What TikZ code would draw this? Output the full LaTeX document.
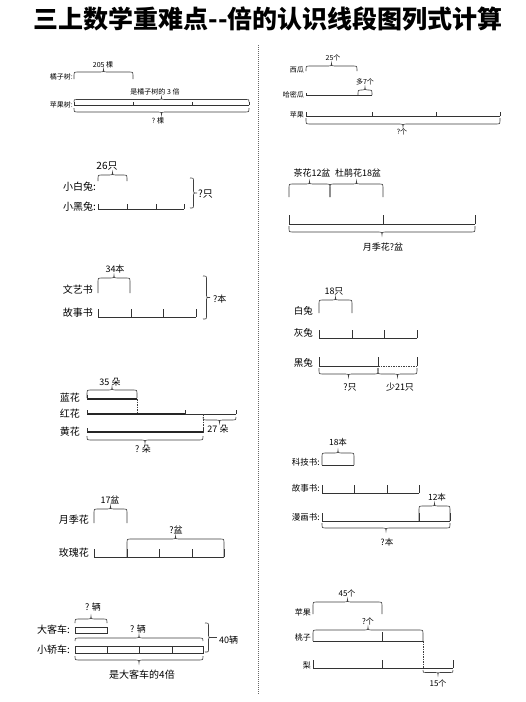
\documentclass[tikz,border=0pt]{standalone}
\usepackage{fontspec}
\setmainfont{Noto Sans CJK SC}
\tikzset{
  lbl/.style={inner sep=0pt, font=\fontsize{#1}{#1}\selectfont},
  lbl/.default=9,
  seg/.style={draw=black!80, line width=0.6pt},
  thickseg/.style={draw=black!85, line width=1.1pt},
  bline/.style={draw=black!75, line width=0.6pt},
  dline/.style={draw=black!75, line width=0.6pt, dash pattern=on 1.5pt off 1pt},
}
\newcommand\topbrace[4]{% x1 x2 ybase ytip
  \pgfmathsetmacro\bqm{(#1+#2)/2}%
  \pgfmathsetmacro\bqa{min(3,abs(#3-#4)/2)}%
  \pgfmathsetmacro\bqr{((#3-#4)/abs(#3-#4))*\bqa}%
  \draw[bline] (#1,#3) -- (#1,#4+2*\bqr) .. controls (#1,#4+\bqr) .. (#1+\bqa,#4+\bqr)
    -- (\bqm-\bqa,#4+\bqr) .. controls (\bqm,#4+\bqr) .. (\bqm,#4)
    .. controls (\bqm,#4+\bqr) .. (\bqm+\bqa,#4+\bqr)
    -- (#2-\bqa,#4+\bqr) .. controls (#2,#4+\bqr) .. (#2,#4+2*\bqr) -- (#2,#3);}
\newcommand\sidebrace[4]{% y1 y2 xbase xtip
  \pgfmathsetmacro\bqm{(#1+#2)/2}%
  \pgfmathsetmacro\bqr{(#4-#3)/2}%
  \draw[bline] (#3,#1) .. controls (#3+\bqr,#1) .. (#3+\bqr,#1+\bqr)
    -- (#3+\bqr,\bqm-\bqr) .. controls (#3+\bqr,\bqm) .. (#4,\bqm)
    .. controls (#3+\bqr,\bqm) .. (#3+\bqr,\bqm+\bqr)
    -- (#3+\bqr,#2-\bqr) .. controls (#3+\bqr,#2) .. (#3,#2);}
\begin{document}
\begin{tikzpicture}[x=1pt,y=-1pt]
\useasboundingbox (0,0) rectangle (526,702);
\fill[white] (0,0) rectangle (526,702);
% title
\node[inner sep=0pt, font=\fontsize{25}{25}\selectfont\bfseries] (title) at (268,19) {三上数学重难点-{}-倍的认识线段图列式计算};
% divider
\draw[black!60, line width=0.6pt, dash pattern=on 1pt off 1pt] (258,45) -- (258,695);

% ---------- panel 1
\node[lbl=7] (p1a) at (103,65) {205 棵};
\node[lbl=7, anchor=east] (p1b) at (73,77) {橘子树:};
\topbrace{74}{133}{79}{69}
\node[lbl=7] (p1c) at (155,92) {是橘子树的 3 倍};
\topbrace{74}{249}{102}{97}
\node[lbl=7, anchor=east] (p1d) at (73,105) {苹果树:};
\draw[seg] (74,105) -- (249,105);
\foreach \q in {74,133,192,249} \draw[seg] (\q,105) -- ++(0,-3);
\topbrace{74}{249}{108}{115}
\node[lbl=7] (p1e) at (158,121) {? 棵};

% ---------- panel 2
\node[lbl=10] (p2a) at (107,166) {26只};
\topbrace{98}{127}{181}{172}
\node[lbl=10, anchor=east] (p2b) at (96,187) {小白兔:};
\node[lbl=10, anchor=east] (p2c) at (96,207) {小黑兔:};
\draw[seg] (98,209) -- (184,209);
\foreach \q in {98,127,156,184} \draw[seg] (\q,209) -- ++(0,-5);
\sidebrace{178}{208}{190}{197}
\node[lbl=10, anchor=west] (p2d) at (198,194) {?只};

% ---------- panel 3
\node[lbl=9] (p3a) at (115,269) {34本};
\topbrace{98}{130}{293}{275}
\node[lbl=10, anchor=east] (p3b) at (93,290) {文艺书};
\node[lbl=10, anchor=east] (p3c) at (93,313) {故事书};
\draw[seg] (98,317) -- (196,317);
\foreach \q in {98,131,163,196} \draw[seg] (\q,317) -- ++(0,-8);
\sidebrace{276}{319}{203}{210}
\node[lbl=9, anchor=west] (p3d) at (213,299) {?本};

% ---------- panel 4
\node[lbl=9] (p4a) at (110,382) {35 朵};
\topbrace{87}{137}{398}{387}
\node[lbl=10, anchor=east] (p4b) at (80,398) {蓝花};
\draw[thickseg] (87,399) -- (137,399);
\draw[seg] (87,399) -- ++(0,-4);
\draw[dline] (137,399) -- (137,414);
\node[lbl=10, anchor=east] (p4c) at (80,414) {红花};
\draw[thickseg] (87,414) -- (185,414);
\draw[seg] (185,414) -- (236,414);
\foreach \q in {87,185,236} \draw[seg] (\q,414) -- ++(0,-4);
\topbrace{203}{236}{417}{423}
\node[lbl=9] (p4d) at (218,429) {27 朵};
\draw[dline] (203,414) -- (203,432);
\node[lbl=10, anchor=east] (p4e) at (80,432) {黄花};
\draw[thickseg] (87,432) -- (203,432);
\foreach \q in {87,203} \draw[seg] (\q,432) -- ++(0,-4);
\topbrace{87}{203}{436}{443}
\node[lbl=9] (p4f) at (143,449) {? 朵};

% ---------- panel 5
\node[lbl=9] (p5a) at (110,500) {17盆};
\topbrace{94}{127}{523}{506}
\node[lbl=10, anchor=east] (p5b) at (89,520) {月季花};
\node[lbl=10, anchor=east] (p5c) at (89,553) {玫瑰花};
\draw[seg] (94,557) -- (224,557);
\foreach \q in {94,127,159,192,224} \draw[seg] (\q,557) -- ++(0,-8);
\topbrace{127}{224}{557}{536}
\node[lbl=9] (p5d) at (176,530) {?盆};

% ---------- panel 6
\node[lbl=9] (p6a) at (93,607) {? 辆};
\topbrace{75}{107}{623}{616}
\draw[seg] (75,627) rectangle (107,633);
\node[lbl=10, anchor=east] (p6b) at (70,630) {大客车:};
\node[lbl=9] (p6c) at (138,629) {? 辆};
\topbrace{75}{203}{641}{635}
\draw[seg] (75,646) rectangle (203,653);
\foreach \q in {107,139,172} \draw[seg] (\q,646) -- (\q,653);
\node[lbl=10, anchor=east] (p6d) at (70,650) {小轿车:};
\topbrace{75}{203}{656}{663}
\node[lbl=10] (p6e) at (142,675) {是大客车的4倍};
\sidebrace{623}{652}{205}{212}
\draw[bline] (212,637.5) -- (217,637.5);
\node[lbl=9, anchor=west] (p6f) at (219,640) {40辆};

% ---------- R1
\node[lbl=7] (r1a) at (333,58) {25个};
\topbrace{306}{357}{71}{63}
\node[lbl=7, anchor=east] (r1b) at (304,70) {西瓜};
\node[lbl=7] (r1c) at (365,82) {多7个};
\node[lbl=7, anchor=east] (r1d) at (304,95) {哈密瓜};
\draw[seg] (306,95) -- (372,95);
\draw[seg] (306,95) -- ++(0,-2);
\topbrace{358}{372}{95}{87}
\node[lbl=7, anchor=east] (r1e) at (304,115) {苹果};
\draw[seg] (306,116) -- (500,116);
\foreach \q in {306,372,436,500} \draw[seg] (\q,116) -- ++(0,-4);
\topbrace{306}{500}{118}{127}
\node[lbl=7] (r1f) at (402,132) {?个};

% ---------- R2
\node[lbl=9] (r2a) at (312,173) {茶花12盆};
\node[lbl=9] (r2b) at (358,173) {杜鹃花18盆};
\topbrace{289}{330}{197}{181}
\topbrace{330}{383}{197}{181}
\draw[seg] (289,224) -- (475,224);
\foreach \q in {289,383,475} \draw[seg] (\q,224) -- ++(0,-9);
\topbrace{289}{475}{226}{235}
\node[lbl=9] (r2c) at (383,247) {月季花?盆};

% ---------- R3
\node[lbl=9] (r3a) at (334,291) {18只};
\topbrace{319}{352}{313}{297}
\node[lbl=9.5, anchor=east] (r3b) at (313,311) {白兔};
\node[lbl=9.5, anchor=east] (r3c) at (313,333) {灰兔};
\draw[seg] (319,338) -- (417,338);
\foreach \q in {319,352,384,417} \draw[seg] (\q,338) -- ++(0,-8);
\node[lbl=9.5, anchor=east] (r3d) at (313,363) {黑兔};
\draw[seg] (319,366) -- (378,366);
\draw[dline] (378,366) -- (417,366);
\foreach \q in {319,378,417} \draw[seg] (\q,366) -- ++(0,-9);
\topbrace{319}{378}{368}{377}
\topbrace{378}{417}{368}{377}
\node[lbl=9] (r3e) at (350,387) {?只};
\node[lbl=9] (r3f) at (400,387) {少21只};

% ---------- R4
\node[lbl=8.5] (r4a) at (338,442) {18本};
\topbrace{322}{354}{465}{450}
\draw[seg] (322,465) -- (354,465);
\node[lbl=8.5, anchor=east] (r4b) at (320,462) {科技书:};
\node[lbl=8.5, anchor=east] (r4c) at (320,488) {故事书:};
\draw[seg] (322,493) -- (419,493);
\foreach \q in {322,354,387,419} \draw[seg] (\q,493) -- ++(0,-8);
\node[lbl=8.5] (r4d) at (437,497) {12本};
\node[lbl=8.5, anchor=east] (r4e) at (320,517) {漫画书:};
\draw[seg] (322,521) -- (450,521);
\foreach \q in {322,419,450} \draw[seg] (\q,521) -- ++(0,-8);
\topbrace{419}{450}{521}{503}
\topbrace{322}{450}{523}{531}
\node[lbl=8.5] (r4f) at (387,542) {?本};

% ---------- R5
\node[lbl=8] (r5a) at (347,593) {45个};
\topbrace{313}{382}{614}{599}
\node[lbl=8, anchor=east] (r5b) at (311,612) {苹果};
\node[lbl=8] (r5c) at (368,621) {?个};
\topbrace{313}{423}{641}{627}
\node[lbl=8, anchor=east] (r5d) at (311,637) {桃子};
\draw[seg] (313,641) -- (423,641);
\draw[seg] (382,641) -- ++(0,-9);
\draw[dline] (423,641) -- (423,668);
\node[lbl=8, anchor=east] (r5e) at (311,665) {梨};
\draw[seg] (313,668) -- (453,668);
\foreach \q in {313,382,453} \draw[seg] (\q,668) -- ++(0,-8);
\topbrace{423}{453}{670}{675}
\node[lbl=8] (r5f) at (438,683) {15个};
\end{tikzpicture}
\end{document}
